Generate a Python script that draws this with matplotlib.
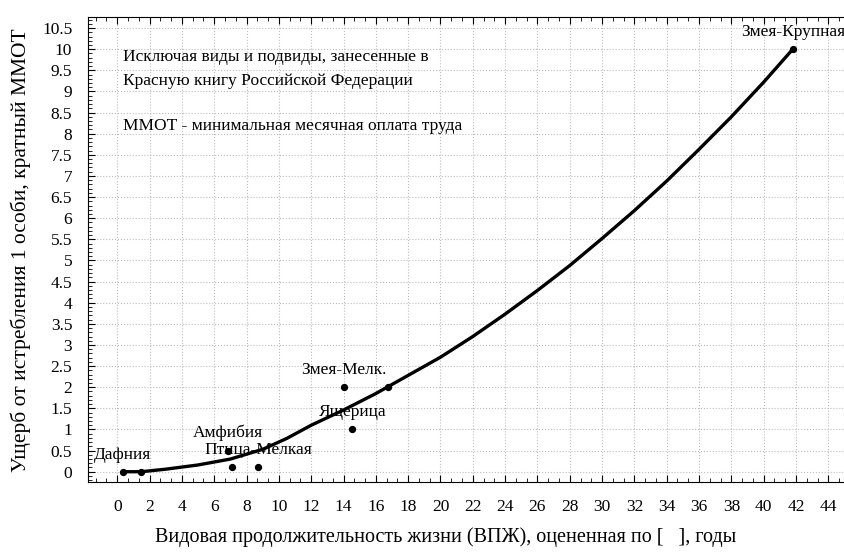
import numpy as np
import matplotlib
matplotlib.use("Agg")
import matplotlib.pyplot as plt
from matplotlib.ticker import MultipleLocator, AutoMinorLocator, FormatStrFormatter

plt.rcParams['font.family'] = ['Liberation Serif', 'DejaVu Serif']

# species points: lifespan (years) vs damage (multiples of MMOT)
pts_x = [0.35, 1.5, 6.83, 7.08, 8.73, 14.0, 14.54, 16.77, 41.8]
pts_y = [0.0, 0.0, 0.5, 0.1, 0.1, 2.0, 1.0, 2.0, 10.0]

# labelled species (label, x, y)
lbl_names = ['Дафния', 'Амфибия', 'Птица-Мелкая', 'Змея-Мелк.', 'Ящерица', 'Змея-Крупная']
lbl_x = [0.35, 6.83, 8.73, 14.0, 14.54, 41.8]
lbl_y = [0.0, 0.5, 0.1, 2.0, 1.0, 10.0]

# fitted trend curve
fit_x = [0.35, 1.5, 3, 5, 7, 9, 10.5, 12, 14, 16, 18, 20, 22, 24, 26, 28, 30, 32, 34, 36, 38, 40, 41.8]
fit_y = [0.0, 0.0, 0.06, 0.16, 0.3, 0.53, 0.79, 1.1, 1.46, 1.85, 2.28, 2.71, 3.20, 3.73, 4.29,
         4.88, 5.52, 6.18, 6.88, 7.63, 8.40, 9.22, 10.0]

notes = ['Исключая виды и подвиды, занесенные в',
         'Красную книгу Российской Федерации',
         'ММОТ - минимальная месячная оплата труда']
notes_y = [9.71, 9.16, 8.09]

fig = plt.figure(figsize=(8.44, 5.52), dpi=100)
ax = fig.add_axes([0.1037, 0.1263, 0.8963, 0.842])

ax.plot(fit_x, fit_y, color='black', lw=2.4, zorder=3)
ax.scatter(pts_x, pts_y, s=18, color='black', zorder=4)

for name, x, y in zip(lbl_names, lbl_x, lbl_y):
    ax.annotate(name, (x, y), xytext=(0, 9.5), textcoords='offset points',
                ha='center', va='baseline', fontsize=12.5)

for t, y in zip(notes, notes_y):
    ax.text(0.37, y, t, ha='left', va='baseline', fontsize=12.5)

ax.set_xlim(-1.84, 44.97)
ax.set_ylim(-0.25, 10.75)
ax.set_xticks(np.arange(0, 45, 2))
ax.xaxis.set_minor_locator(AutoMinorLocator(3))
ax.yaxis.set_major_locator(MultipleLocator(0.5))
ax.yaxis.set_minor_locator(AutoMinorLocator(5))
ax.yaxis.set_major_formatter(FormatStrFormatter('%g'))

ax.grid(True, which='major', color='#bdbdbd', linestyle=':', linewidth=0.8)
ax.tick_params(which='both', direction='in', top=True, right=False, labelsize=12.5)
ax.tick_params(axis='x', pad=12)
ax.tick_params(axis='y', pad=11)
ax.tick_params(which='major', length=5)
ax.tick_params(which='minor', length=3)
ax.spines['right'].set_visible(False)

ax.set_xlabel('Видовая продолжительность жизни (ВПЖ), оцененная по [   ], годы', fontsize=14.5)
ax.xaxis.set_label_coords(0.473, -0.097)
ax.set_ylabel('Ущерб от истребления 1 особи, кратный ММОТ', fontsize=15.5, labelpad=8)

fig.savefig('out.png', dpi=100)
